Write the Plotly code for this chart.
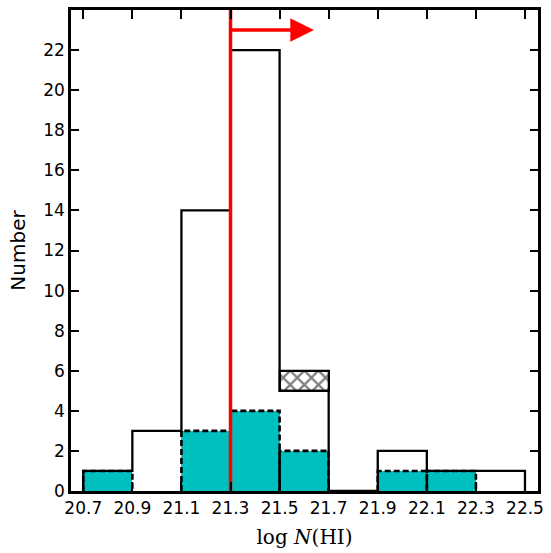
import plotly.graph_objects as go

# Data
bin_edges = [20.7, 20.9, 21.1, 21.3, 21.5, 21.7, 21.9, 22.1, 22.3, 22.5]
all_counts = [1, 3, 14, 22, 5, 0, 2, 1, 1]
cyan_counts = [1, 0, 3, 4, 2, 0, 1, 1, 0]
hatch_bin = [21.5, 21.7]
hatch_base = 5
hatch_count = 1
cut_value = 21.3
arrow_end = 21.64
arrow_y = 23.0
x_ticks = [20.7, 20.9, 21.1, 21.3, 21.5, 21.7, 21.9, 22.1, 22.3, 22.5]
x_tick_labels = ["20.7", "20.9", "21.1", "21.3", "21.5", "21.7", "21.9", "22.1", "22.3", "22.5"]
y_ticks = list(range(0, 24, 2))

CYAN = "#00BFBF"

fig = go.Figure()

# Black step outline of full sample
sx, sy = [bin_edges[0]], [0]
for i, h in enumerate(all_counts):
    sx += [bin_edges[i], bin_edges[i + 1]]
    sy += [h, h]
sx.append(bin_edges[-1]); sy.append(0)
fig.add_trace(go.Scatter(x=sx, y=sy, mode="lines", line=dict(color="black", width=2.3),
                         hoverinfo="skip", showlegend=False))

# Hatched stacked piece
fig.add_trace(go.Bar(x=[(hatch_bin[0] + hatch_bin[1]) / 2], y=[hatch_count], base=[hatch_base],
                     width=hatch_bin[1] - hatch_bin[0],
                     marker=dict(color="white", line=dict(color="black", width=2.3),
                                 pattern=dict(shape="x", fgcolor="black", bgcolor="white", size=10, solidity=0.4)),
                     showlegend=False))

# Cyan filled bars
centers = [(bin_edges[i] + bin_edges[i + 1]) / 2 for i in range(len(cyan_counts))]
fig.add_trace(go.Bar(x=centers, y=cyan_counts, width=0.2,
                     marker=dict(color=CYAN, line=dict(width=0)), showlegend=False))

# Dashed outlines of cyan bars
dx, dy = [], []
for i, h in enumerate(cyan_counts):
    if h > 0:
        dx += [bin_edges[i], bin_edges[i], bin_edges[i + 1], bin_edges[i + 1], None]
        dy += [0, h, h, 0, None]
fig.add_trace(go.Scatter(x=dx, y=dy, mode="lines", line=dict(color="black", width=2.6, dash="6px,3px"),
                         hoverinfo="skip", showlegend=False, connectgaps=False))

# Red vertical line
fig.add_trace(go.Scatter(x=[cut_value, cut_value], y=[0, 24], mode="lines",
                         line=dict(color="red", width=3.5), hoverinfo="skip", showlegend=False))

fig.add_annotation(x=arrow_end, y=arrow_y, ax=cut_value, ay=arrow_y, xref="x", yref="y",
                   axref="x", ayref="y", text="", showarrow=True, arrowhead=2, arrowsize=1.35,
                   arrowwidth=3.5, arrowcolor="red")

fig.update_layout(
    width=551, height=553,
    margin=dict(l=71, r=10, t=7, b=62),
    plot_bgcolor="white", paper_bgcolor="white",
    barmode="overlay", bargap=0,
    font=dict(family="DejaVu Sans", size=17, color="black"),
    xaxis=dict(range=[20.65, 22.553], tickvals=x_ticks, ticktext=x_tick_labels,
               showline=True, mirror="ticks", linecolor="black", linewidth=2.5,
               ticks="inside", ticklen=9, tickwidth=1.5, tickcolor="black",
               showgrid=False, zeroline=False,
               title=dict(text="log <i>N</i>(HI)", font=dict(family="DejaVu Serif", size=20), standoff=13)),
    yaxis=dict(range=[0, 24], tickvals=y_ticks,
               showline=True, mirror="ticks", linecolor="black", linewidth=2.5,
               ticks="inside", ticklen=8, tickwidth=1.5, tickcolor="black",
               showgrid=False, zeroline=False,
               title=dict(text="Number", font=dict(family="DejaVu Sans", size=20), standoff=13)),
)

fig.write_html("out.html")
